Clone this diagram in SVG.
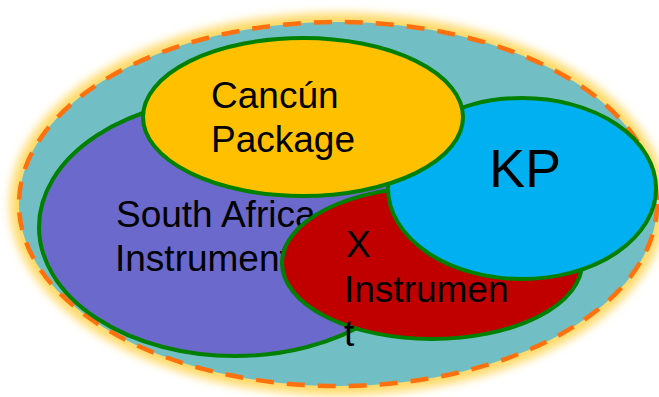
<svg xmlns="http://www.w3.org/2000/svg" width="659" height="397" viewBox="0 0 659 397">
  <defs>
    <filter id="glow" x="-10%" y="-10%" width="120%" height="120%">
      <feGaussianBlur stdDeviation="5"/>
    </filter>
    <style>
      .set { stroke: #008000; stroke-width: 4; }
      .lbl { font-family: "Liberation Sans", Arial, sans-serif; font-size: 37px; fill: #000000; }
    </style>
  </defs>
  <g id="outer">
    <ellipse cx="338" cy="204" rx="328" ry="191" fill="#FFD966" filter="url(#glow)"/>
    <ellipse cx="338" cy="204" rx="319" ry="182" fill="#71BFC4" stroke="#FF700F" stroke-width="4.5" stroke-dasharray="18 13"/>
  </g>
  <g id="south-africa">
    <ellipse class="set" cx="235" cy="227" rx="196" ry="129" fill="#6B69CC"/>
    <text class="lbl" x="116" y="227">South Africa</text>
    <text class="lbl" x="115" y="271">Instrument</text>
  </g>
  <g id="x-instrument">
    <ellipse class="set" cx="432" cy="263" rx="150" ry="76" fill="#C00000"/>
    <text class="lbl" x="346" y="257">X</text>
    <text class="lbl" x="344" y="302">Instrumen</text>
    <text class="lbl" x="344" y="346">t</text>
  </g>
  <g id="kp">
    <ellipse class="set" cx="522" cy="188.5" rx="134" ry="90.5" fill="#00B0F0"/>
    <text class="lbl" x="489" y="187" style="font-size:54px">KP</text>
  </g>
  <g id="cancun">
    <ellipse class="set" cx="303" cy="117" rx="160" ry="79" fill="#FFC000"/>
    <text class="lbl" x="211" y="108">Cancún</text>
    <text class="lbl" x="211" y="152">Package</text>
  </g>
  <g id="connectors"/>
</svg>
